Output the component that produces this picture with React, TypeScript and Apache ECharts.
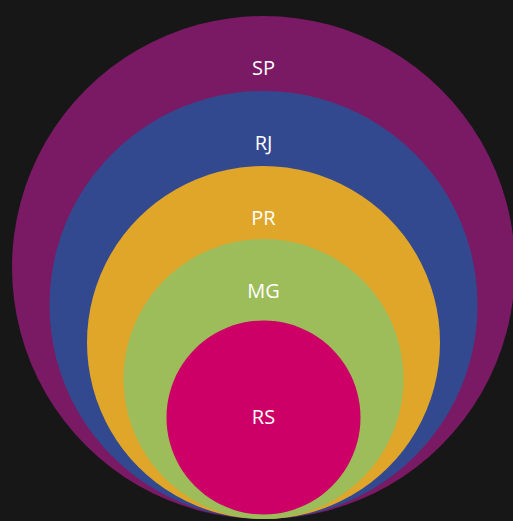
import React, { useEffect, useRef } from "react";
import * as echarts from "echarts";

const categories = ["SP", "RJ", "PR", "MG", "RS"];
const radii = [251.5, 214, 176.5, 140, 97];
const colors = ["#7B1A64", "#33498F", "#E0A62A", "#9DBC5A", "#CC0066"];

const CX = 263.5;
const BASE = 2;
const INNER_LIFT = 4.5;
const LABEL_OFFSET = 51;

export default function App() {
  const ref = useRef<HTMLDivElement>(null);
  useEffect(() => {
    if (!ref.current) return;
    const chart = echarts.init(ref.current, undefined, { renderer: "svg" });
    const data = categories.map((name, i) => ({ name, value: [radii[i]] }));
    chart.setOption({
      animation: false,
      backgroundColor: "#171717",
      grid: { left: 0, right: 0, top: 0, bottom: 0 },
      xAxis: { type: "value", min: 0, max: 513, show: false },
      yAxis: { type: "value", min: 0, max: 521, show: false },
      series: [
        {
          type: "custom",
          coordinateSystem: "cartesian2d",
          clip: false,
          data,
          renderItem: (params: any, api: any) => {
            const i = params.dataIndex;
            const r = api.value(0);
            const last = i === categories.length - 1;
            const c = api.coord([CX, BASE + r + (last ? INNER_LIFT : 0)]);
            const rp = api.size([r, r])[0];
            const ly = last ? c[1] - 1 : c[1] - rp + LABEL_OFFSET;
            return {
              type: "group",
              children: [
                {
                  type: "circle",
                  shape: { cx: c[0], cy: c[1], r: rp },
                  style: { fill: colors[i] },
                },
                {
                  type: "text",
                  x: c[0],
                  y: ly,
                  style: {
                    text: categories[i],
                    fill: "#ffffff",
                    fontSize: 20,
                    fontFamily: "Open Sans",
                    align: "center",
                    verticalAlign: "middle",
                  },
                },
              ],
            };
          },
        },
      ],
    });
    return () => chart.dispose();
  }, []);
  return (
    <div
      ref={ref}
      style={{ position: "absolute", left: 0, top: 0, width: 513, height: 521 }}
    />
  );
}
